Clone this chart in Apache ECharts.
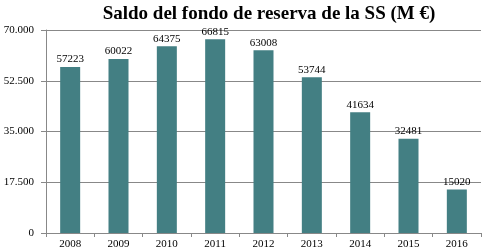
<!DOCTYPE html>
<html><head><meta charset="utf-8">
<script src="https://cdn.jsdelivr.net/npm/echarts@6/dist/echarts.min.js"></script>
<style>html,body{margin:0;padding:0;background:#fff}#c{width:482px;height:251px}</style>
</head><body><div id="c"></div>
<script>
const categories = ['2008','2009','2010','2011','2012','2013','2014','2015','2016'];
const values = [57223,60022,64375,66815,63008,53744,41634,32481,15020];
const titleText = 'Saldo del fondo de reserva de la SS (M €)';
const chart = echarts.init(document.getElementById('c'));
const serif = 'Liberation Serif';
chart.setOption({
  animation:false,
  title:{text:titleText,left:264,textAlign:'center',top:0,textStyle:{fontFamily:serif,fontWeight:'bold',fontSize:19,color:'#000'}},
  grid:{left:46,right:1,top:30,bottom:18,containLabel:false},
  xAxis:{type:'category',data:categories,
    axisLine:{lineStyle:{color:'#888'}},
    axisTick:{show:true,lineStyle:{color:'#888'},length:4},
    axisLabel:{fontFamily:serif,fontSize:11,color:'#000',margin:6}},
  yAxis:{type:'value',min:0,max:70000,interval:17500,
    axisLine:{show:true,lineStyle:{color:'#888'}},
    axisTick:{show:true,length:5,lineStyle:{color:'#888'}},
    splitLine:{lineStyle:{color:'#888'}},
    axisLabel:{fontFamily:serif,fontSize:11,color:'#000',margin:12,
      formatter:v=>v===0?'0':v.toLocaleString('de-DE')}},
  series:[{type:'bar',data:values,barWidth:20,itemStyle:{color:'#437f83'},
    label:{show:true,position:'top',distance:2,fontFamily:serif,fontSize:11,color:'#000'}}]
});
</script></body></html>
